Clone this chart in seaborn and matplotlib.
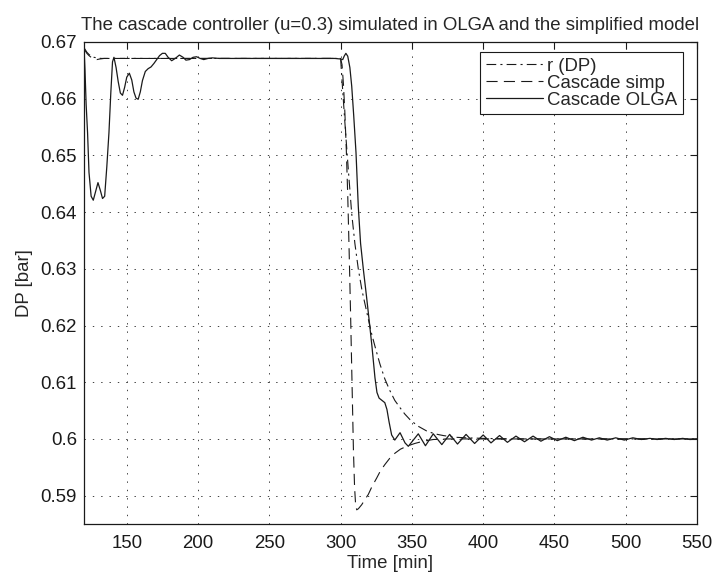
import matplotlib
matplotlib.use('Agg')
import matplotlib.pyplot as plt
import seaborn as sns

# Consigna r (DP)
t_ref = [120, 121, 122, 123.5, 125, 127, 129, 132, 300, 301, 302, 303.5, 305.4,
         307.8, 310, 312.4, 315, 317.1, 320, 321.8, 325, 327.6, 331, 334.6, 338,
         341.7, 345, 348.7, 354, 360.4, 366, 372, 380, 388, 400, 420, 550]
dp_ref = [0.6690, 0.6686, 0.6682, 0.6678, 0.6675, 0.6673, 0.6672, 0.6671, 0.6671,
          0.6632, 0.6595, 0.6540, 0.6475, 0.6397, 0.6345, 0.6300, 0.6262, 0.6238,
          0.6205, 0.6185, 0.6155, 0.6132, 0.6106, 0.6085, 0.6068, 0.6055, 0.6044,
          0.6034, 0.6023, 0.6014, 0.6009, 0.6006, 0.6003, 0.6002, 0.6001, 0.6000,
          0.6000]

# Modelo simplificado
t_simp = [120, 121, 122, 123.5, 125, 127, 129, 131, 134, 300, 301, 302, 303, 304,
          305, 306, 307, 308, 309, 309.8, 310.5, 311.3, 312.5, 314.8, 317, 319.4,
          322, 325.3, 328, 331.1, 334.5, 338.2, 342, 346.3, 352, 358, 365, 375, 550]
dp_simp = [0.6688, 0.6684, 0.6680, 0.6676, 0.6673, 0.6670, 0.6669, 0.6670, 0.6671,
           0.6671, 0.6660, 0.6625, 0.6575, 0.6510, 0.6430, 0.6330, 0.6220, 0.6100,
           0.5980, 0.5915, 0.5885, 0.5875, 0.5877, 0.5884, 0.5893, 0.5902, 0.5916,
           0.5931, 0.5944, 0.5955, 0.5966, 0.5975, 0.5982, 0.5987, 0.5992, 0.5996,
           0.5999, 0.6000, 0.6000]

# Simulacion OLGA
t_olga = [120, 120.7, 121.5, 122.5, 123.5, 125, 126.5, 128, 129.8, 131.5, 133, 134.5,
          136, 137.5, 138.8, 140, 141, 142.5, 144, 145.5, 147, 148.5, 150, 151.8,
          153.5, 155, 156.5, 158, 159.5, 161, 163, 165, 167, 169, 171, 173, 175, 177,
          179, 181.5, 184, 186.9, 189.5, 191.5, 194, 196.5, 199, 201.5, 204, 207,
          210, 215, 296, 300, 301.5, 302.5, 303.7, 305, 306.5, 307.8, 309.2, 310.8,
          312.4, 314, 316, 318, 320, 322, 324.1, 325.5, 327, 329, 331, 332.5, 334,
          335.8, 338, 341.7, 345.2, 347.5, 354.5, 359.5, 365, 371, 376.5, 382, 388,
          394, 400, 405.5, 411.5, 417, 423, 429, 435, 440.5, 446.5, 452, 458, 464,
          470, 476, 481.5, 487, 493, 499, 505, 511, 517, 522, 528, 534, 540, 545, 550]
dp_olga = [0.6690, 0.6650, 0.6590, 0.6540, 0.6470, 0.6428, 0.6421, 0.6435, 0.6452,
           0.6438, 0.6424, 0.6428, 0.6480, 0.6540, 0.6610, 0.6665, 0.6673, 0.6655,
           0.6630, 0.6610, 0.6606, 0.6620, 0.6638, 0.6645, 0.6633, 0.6612, 0.6601,
           0.6599, 0.6612, 0.6632, 0.6648, 0.6653, 0.6656, 0.6662, 0.6669, 0.6676,
           0.6680, 0.6680, 0.6673, 0.6667, 0.6671, 0.6677, 0.6673, 0.6668, 0.6669,
           0.6673, 0.6674, 0.6671, 0.6669, 0.6671, 0.6672, 0.6671, 0.6671, 0.6670,
           0.6669, 0.6675, 0.6680, 0.6675, 0.6655, 0.6622, 0.6570, 0.6505, 0.6410,
           0.6345, 0.6298, 0.6255, 0.6210, 0.6163, 0.6108, 0.6082, 0.6072, 0.6068,
           0.6064, 0.6052, 0.6030, 0.6007, 0.5998, 0.6011, 0.5993, 0.5987, 0.6009,
           0.5988, 0.6009, 0.5990, 0.6008, 0.5991, 0.6008, 0.5992, 0.6007, 0.5993,
           0.6006, 0.5994, 0.6005, 0.5995, 0.6005, 0.5996, 0.6004, 0.5997, 0.6003,
           0.5997, 0.6003, 0.5998, 0.6002, 0.5998, 0.6002, 0.5998, 0.6002, 0.5999,
           0.6001, 0.5999, 0.6001, 0.5999, 0.6001, 0.5999, 0.6000]

x_ticks = [150, 200, 250, 300, 350, 400, 450, 500, 550]
y_ticks = [0.59, 0.60, 0.61, 0.62, 0.63, 0.64, 0.65, 0.66, 0.67]
y_tick_labels = ['0.59', '0.6', '0.61', '0.62', '0.63', '0.64', '0.65', '0.66', '0.67']

sns.set_theme(style='white')
plt.rcParams['font.family'] = ['Liberation Sans', 'DejaVu Sans']
plt.rcParams['lines.scale_dashes'] = False
fs = 13.4

fig = plt.figure(figsize=(7.13, 5.76), dpi=100)
ax = fig.add_axes([84 / 713, 52 / 576, 613 / 713, 482 / 576])

sns.lineplot(x=t_ref, y=dp_ref, ax=ax, color='k', lw=0.8, linestyle=(0, (7, 3, 1.5, 3)),
             label='r (DP)', estimator=None, sort=False)
sns.lineplot(x=t_simp, y=dp_simp, ax=ax, color='k', lw=0.8, linestyle=(0, (8, 4.5)),
             label='Cascade simp', estimator=None, sort=False)
sns.lineplot(x=t_olga, y=dp_olga, ax=ax, color='k', lw=0.9, linestyle='-',
             label='Cascade OLGA', estimator=None, sort=False)

ax.set_xlim(120, 550)
ax.set_ylim(0.585, 0.67)
ax.set_xticks(x_ticks)
ax.set_xticklabels([str(v) for v in x_ticks])
ax.set_yticks(y_ticks)
ax.set_yticklabels(y_tick_labels)
ax.tick_params(direction='in', length=5, width=0.8, top=True, right=True,
               labelsize=fs, colors='k')
ax.tick_params(axis='x', pad=8)
ax.tick_params(axis='y', pad=5)
for s in ax.spines.values():
    s.set_color('k')
    s.set_linewidth(0.9)
ax.grid(True, color='0.25', lw=0.7, linestyle=(0, (1, 5)))

ax.set_title('The cascade controller (u=0.3) simulated in OLGA and the simplified model',
             fontsize=fs, pad=9)
ax.set_xlabel('Time [min]', fontsize=fs)
ax.set_ylabel('DP [bar]', fontsize=fs)
ax.xaxis.set_label_coords(0.5, -0.065)
ax.yaxis.set_label_coords(-0.083, 0.5)

leg = ax.legend(loc='upper right', bbox_to_anchor=(0.977, 0.979), borderaxespad=0,
                fancybox=False, edgecolor='k', framealpha=1, handlelength=3.1,
                handletextpad=0.2, labelspacing=0.0, borderpad=0.3, fontsize=fs)
leg.get_frame().set_linewidth(0.8)

fig.savefig('out.png', dpi=100, facecolor='white')
